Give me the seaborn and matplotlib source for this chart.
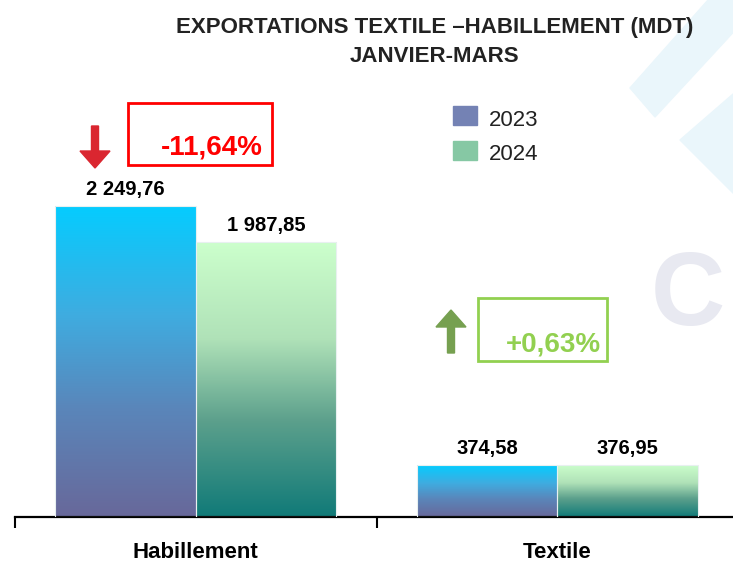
import seaborn as sns
import matplotlib.pyplot as plt
import pandas as pd
import numpy as np
from matplotlib.colors import LinearSegmentedColormap
from matplotlib.patches import Rectangle, Polygon, FancyArrow

categories = ["Habillement", "Textile"]
years = ["2023", "2024"]
values_2023 = [2249.76, 374.58]
values_2024 = [1987.85, 376.95]
labels_2023 = ["2 249,76", "374,58"]
labels_2024 = ["1 987,85", "376,95"]
changes = ["-11,64%", "+0,63%"]

W, H = 733, 564


def fx(x):
    return x / W


def fy(y):
    return 1 - y / H


df = pd.DataFrame({
    "cat": categories * 2,
    "year": [years[0]] * 2 + [years[1]] * 2,
    "val": values_2023 + values_2024,
})

sns.set_style("white")
plt.rcParams['font.family'] = ['Liberation Sans', 'DejaVu Sans']

fig = plt.figure(figsize=(W / 100, H / 100), dpi=100)

# faint watermark shapes behind everything
wm = "#EAF6FB"
fig.patches.append(Polygon([(fx(708), fy(0)), (fx(740), fy(0)), (fx(740), fy(25)),
                            (fx(655), fy(117)), (fx(630), fy(88))],
                           closed=True, transform=fig.transFigure, color=wm, zorder=0))
fig.patches.append(Polygon([(fx(740), fy(88)), (fx(680), fy(140)), (fx(740), fy(200))],
                           closed=True, transform=fig.transFigure, color=wm, zorder=0))
fig.text(fx(688), fy(298), "C", fontsize=74, fontweight="bold", color="#E8E9F1",
         ha="center", va="center", zorder=0)

ax = fig.add_axes([fx(15), 47 / H, 723 / W, 437 / H])
ax.patch.set_alpha(0)
scale = 311 / 2249.76
ymax = 437 / scale

sns.barplot(data=df, x="cat", y="val", hue="year", hue_order=years, order=categories,
            width=0.776, gap=0, legend=False, ax=ax, edgecolor="none",
            palette=["#5B8FC8", "#7CC0A0"])

cmaps = [
    LinearSegmentedColormap.from_list("c23", [(0, "#68689A"), (0.35, "#5A86BA"),
                                              (0.65, "#3FACE0"), (1, "#05CCFF")]),
    LinearSegmentedColormap.from_list("c24", [(0, "#107A78"), (0.35, "#5CA08C"),
                                              (0.65, "#B0E2B8"), (1, "#CCFFCC")]),
]
grad = np.linspace(0, 1, 256).reshape(-1, 1)
bars = list(ax.patches)
for i, p in enumerate(bars):
    x0, w, h = p.get_x(), p.get_width(), p.get_height()
    cm = cmaps[i // 2]
    p.set_facecolor("none")
    p.set_edgecolor("#E8F0F0")
    p.set_linewidth(0.8)
    im = ax.imshow(grad, cmap=cm, aspect="auto", origin="lower",
                   extent=[x0, x0 + w, 0, h], zorder=2)
    im.set_clip_path(p)
    p.set_zorder(3)

ax.set_xlim(-0.5, 1.5)
ax.set_ylim(0, ymax)

for i, p in enumerate(bars):
    lab = (labels_2023 + labels_2024)[i]
    ax.annotate(lab, (p.get_x() + p.get_width() / 2, p.get_height()),
                xytext=(0, 5), textcoords="offset points", ha="center", va="bottom",
                fontsize=14.5, fontweight="bold", color="black", zorder=5)

ax.set_xticks([-0.5, 0.5, 1.5])
ax.set_xticklabels([])
ax.tick_params(axis="x", direction="out", length=8, width=1.5, color="black", bottom=True)
ax.set_yticks([])
for s in ["top", "left", "right"]:
    ax.spines[s].set_visible(False)
ax.spines["bottom"].set_color("black")
ax.spines["bottom"].set_linewidth(1.6)
ax.set_xlabel("")
ax.set_ylabel("")
for i, c in enumerate(categories):
    ax.text(i, -36 / scale, c, ha="center", va="center", fontsize=16,
            fontweight="bold", color="black")

# title
fig.text(fx(435), fy(27), "EXPORTATIONS TEXTILE \u2013HABILLEMENT (MDT)",
         fontsize=16, fontweight="bold", color="#222222", ha="center", va="center")
fig.text(fx(435), fy(57), "JANVIER-MARS",
         fontsize=16, fontweight="bold", color="#222222", ha="center", va="center")

# legend
legend_cols = ["#7482B4", "#86C8A4"]
for j, yr in enumerate(years):
    yy = 106 + j * 35
    fig.patches.append(Rectangle((fx(453), fy(yy + 19)), 24 / W, 19 / H,
                                 transform=fig.transFigure, color=legend_cols[j]))
    fig.text(fx(489), fy(yy + 14), yr, fontsize=16, color="#222222",
             ha="left", va="center")

# change boxes
red = "#FF0000"
green = "#92D050"
fig.patches.append(Rectangle((fx(128), fy(165)), 144 / W, 62 / H, fill=False,
                             transform=fig.transFigure, edgecolor=red, linewidth=2))
fig.text(fx(263), fy(147), changes[0], fontsize=20, fontweight="bold", color=red,
         ha="right", va="center")
fig.patches.append(Rectangle((fx(478), fy(361)), 129 / W, 63 / H, fill=False,
                             transform=fig.transFigure, edgecolor=green, linewidth=2))
fig.text(fx(601), fy(344), changes[1], fontsize=20, fontweight="bold", color=green,
         ha="right", va="center")

# arrows
fig.patches.append(FancyArrow(fx(95), fy(126), 0, -42 / H, width=7 / W,
                              head_width=30 / W, head_length=17 / H,
                              length_includes_head=True, transform=fig.transFigure,
                              color="#DA2630"))
fig.patches.append(FancyArrow(fx(451), fy(353), 0, 43 / H, width=7 / W,
                              head_width=30 / W, head_length=17 / H,
                              length_includes_head=True, transform=fig.transFigure,
                              color="#76A050"))

plt.savefig("out.png", dpi=100)
plt.close()
